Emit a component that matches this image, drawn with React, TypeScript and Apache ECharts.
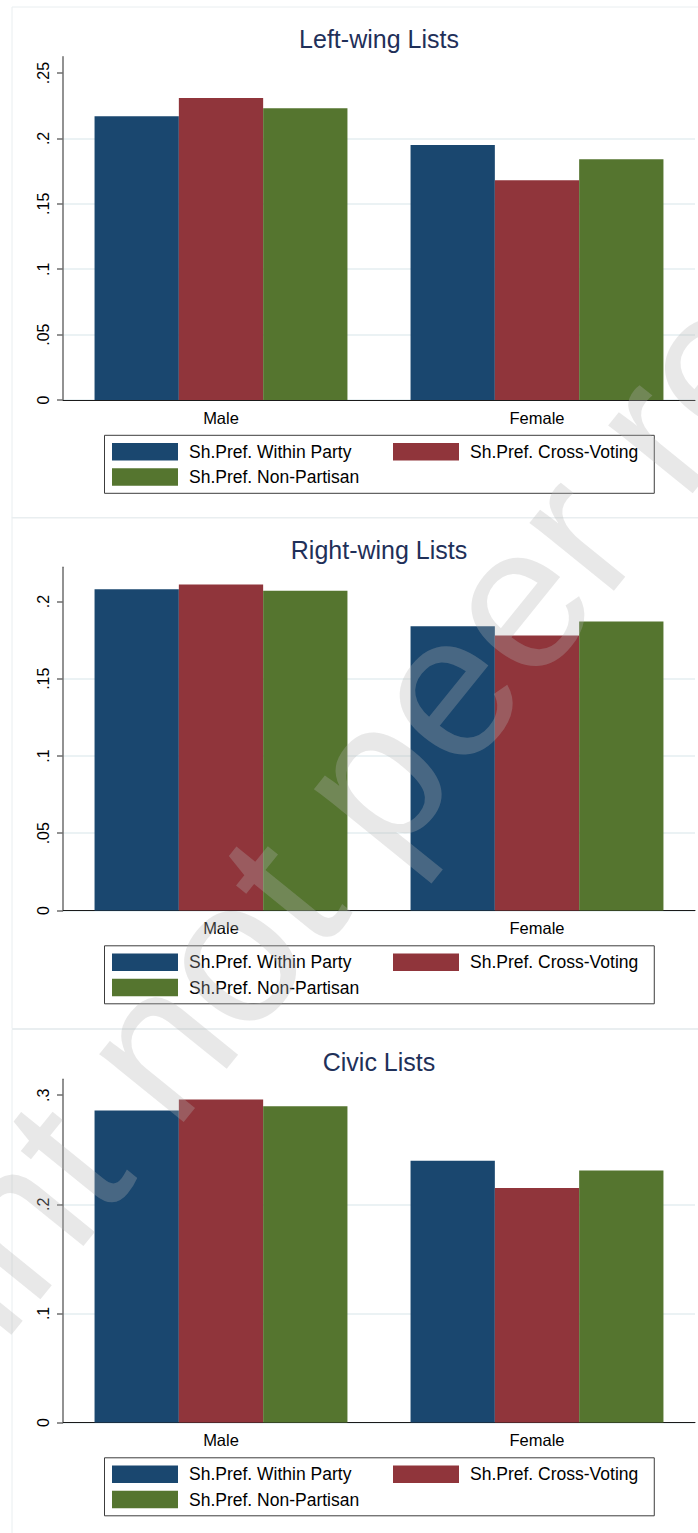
import React, { useEffect, useRef } from "react";
import * as echarts from "echarts";

// ---- data ----
const categories = ["Male", "Female"];
const seriesNames = ["Sh.Pref. Within Party", "Sh.Pref. Cross-Voting", "Sh.Pref. Non-Partisan"];
const panelTitles = ["Left-wing Lists", "Right-wing Lists", "Civic Lists"];

const leftWithin = [0.217, 0.195];
const leftCross = [0.231, 0.168];
const leftNonPartisan = [0.223, 0.184];

const rightWithin = [0.208, 0.184];
const rightCross = [0.211, 0.178];
const rightNonPartisan = [0.207, 0.187];

const civicWithin = [0.286, 0.240];
const civicCross = [0.296, 0.215];
const civicNonPartisan = [0.290, 0.231];

const leftTicks = [0, 0.05, 0.1, 0.15, 0.2, 0.25];
const leftTickLabels = ["0", ".05", ".1", ".15", ".2", ".25"];
const rightTicks = [0, 0.05, 0.1, 0.15, 0.2];
const rightTickLabels = ["0", ".05", ".1", ".15", ".2"];
const civicTicks = [0, 0.1, 0.2, 0.3];
const civicTickLabels = ["0", ".1", ".2", ".3"];

const watermarkText = "Preprint not peer reviewed";

// ---- styling / layout ----
const FONT = '"Liberation Sans", Arial, Helvetica, sans-serif';
const COLORS = ["#1a476f", "#90353b", "#55752f"];
const panelOffsets = [0, 510.5, 1022.5];
const yMax = [0.2625, 0.2222, 0.3147];
const yStep = [0.05, 0.05, 0.1];

export default function App() {
  const ref = useRef<HTMLDivElement>(null);

  useEffect(() => {
    if (!ref.current) return;
    const chart = echarts.init(ref.current, null, { renderer: "svg" });

    const panelData = [
      [leftWithin, leftCross, leftNonPartisan],
      [rightWithin, rightCross, rightNonPartisan],
      [civicWithin, civicCross, civicNonPartisan],
    ];
    const ticks = [leftTicks, rightTicks, civicTicks];
    const tickLabels = [leftTickLabels, rightTickLabels, civicTickLabels];

    const grids = panelOffsets.map((off) => ({
      left: 63,
      width: 632,
      top: 56.7 + off,
      height: 343.3,
      containLabel: false,
    }));

    const xAxes = panelOffsets.map((_, i) => ({
      gridIndex: i,
      type: "category",
      data: categories,
      axisLine: { show: true, lineStyle: { color: "#1a1a1a", width: 1 } },
      axisTick: { show: false },
      axisLabel: { fontSize: 16.5, color: "#000", fontFamily: FONT, margin: 9 },
      splitLine: { show: false },
    }));

    const yAxes = panelOffsets.map((_, i) => ({
      gridIndex: i,
      type: "value",
      min: 0,
      max: yMax[i],
      interval: yStep[i],
      axisLine: { show: true, lineStyle: { color: "#6e6e6e", width: 1.5 } },
      axisTick: {
        show: true,
        length: 6,
        customValues: ticks[i],
        lineStyle: { color: "#6e6e6e", width: 1.5 },
      },
      axisLabel: {
        rotate: 90,
        margin: 12,
        fontSize: 16,
        color: "#000",
        fontFamily: FONT,
        customValues: ticks[i],
        formatter: (v: number) => {
          let best = 0;
          ticks[i].forEach((t, k) => {
            if (Math.abs(t - v) < Math.abs(ticks[i][best] - v)) best = k;
          });
          return tickLabels[i][best];
        },
      },
      splitLine: {
        show: true,
        showMaxLine: false,
        lineStyle: { color: "#e4eef0", width: 1.5 },
      },
    }));

    const series: any[] = [];
    panelData.forEach((groups, i) => {
      groups.forEach((vals, s) => {
        series.push({
          type: "bar",
          name: seriesNames[s],
          xAxisIndex: i,
          yAxisIndex: i,
          data: vals,
          barWidth: 84.3,
          barGap: "0%",
          itemStyle: { color: COLORS[s] },
          emphasis: { disabled: true },
        });
      });
    });

    const legends = panelOffsets.map((off) => ({
      left: 104.5,
      top: 435.3 + off,
      width: 560,
      orient: "horizontal",
      icon: "rect",
      itemWidth: 66,
      itemHeight: 17.5,
      itemGap: 7.3,
      padding: [7.4, 16, 7.3, 7.5],
      borderColor: "#3c3c3c",
      borderWidth: 1,
      backgroundColor: "#ffffff",
      selectedMode: false,
      textStyle: {
        fontSize: 17.5,
        lineHeight: 17.5,
        color: "#000",
        fontFamily: FONT,
        padding: [0, 0, 0, 6],
      },
      data: [
        { name: seriesNames[0], textStyle: { width: 196.7 } },
        { name: seriesNames[1] },
        { name: seriesNames[2] },
      ],
    }));

    const titles = panelTitles.map((t, i) => ({
      text: t,
      left: 379,
      top: 26.5 + panelOffsets[i],
      textAlign: "center",
      padding: 0,
      textStyle: { fontSize: 25, fontWeight: "normal", color: "#1f3059", fontFamily: FONT },
    }));

    const panelRects = panelOffsets.map((off, i) => ({
      type: "rect",
      z: -1,
      shape: { x: 12, y: 7 + off, width: 700, height: i === 2 ? 520 : 511 },
      style: { fill: "none", stroke: "#e9eef0", lineWidth: 1 },
      silent: true,
    }));

    chart.setOption({
      animation: false,
      backgroundColor: "#ffffff",
      title: titles,
      grid: grids,
      xAxis: xAxes,
      yAxis: yAxes,
      legend: legends,
      series,
      graphic: [
        ...panelRects,
        {
          type: "text",
          x: 388,
          y: 756,
          rotation: (51 * Math.PI) / 180,
          z: 100,
          silent: true,
          style: {
            text: watermarkText,
            fontSize: 205,
            fontFamily: FONT,
            fill: "rgba(179,179,179,0.3)",
            align: "center",
            verticalAlign: "middle",
          },
        },
      ],
    });

    return () => chart.dispose();
  }, []);

  return (
    <div
      ref={ref}
      style={{ position: "absolute", left: 0, top: 0, width: 698, height: 1533, background: "#fff" }}
    />
  );
}
